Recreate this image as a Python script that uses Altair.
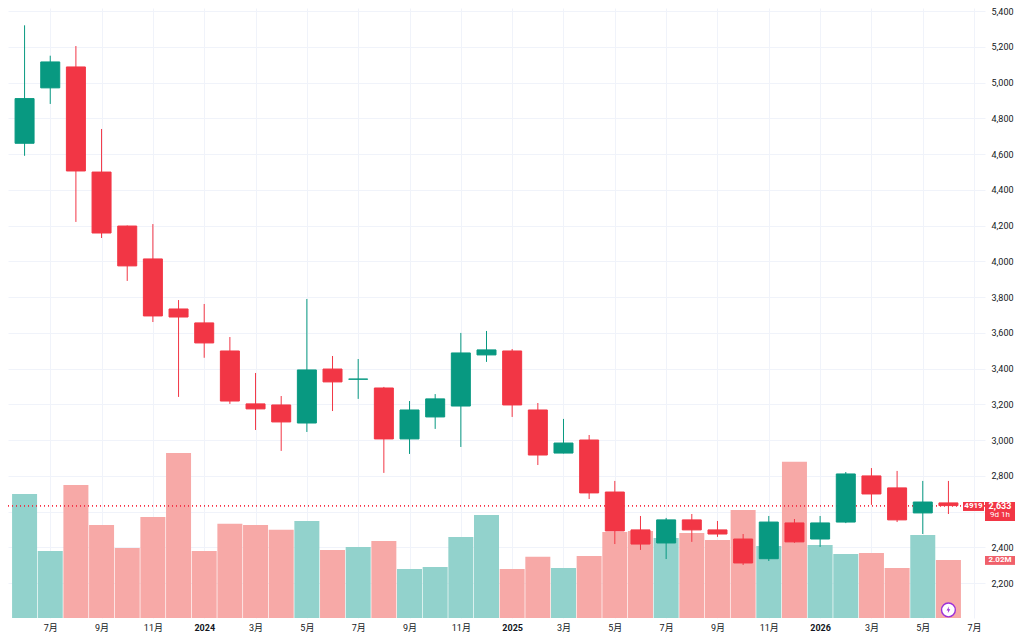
import json
import altair as alt
import pandas as pd

# ---- data (monthly candles, Jun 2023 .. Jun 2026) ----
months = ["2023-06", "2023-07", "2023-08", "2023-09", "2023-10", "2023-11", "2023-12",
          "2024-01", "2024-02", "2024-03", "2024-04", "2024-05", "2024-06", "2024-07",
          "2024-08", "2024-09", "2024-10", "2024-11", "2024-12", "2025-01", "2025-02",
          "2025-03", "2025-04", "2025-05", "2025-06", "2025-07", "2025-08", "2025-09",
          "2025-10", "2025-11", "2025-12", "2026-01", "2026-02", "2026-03", "2026-04",
          "2026-05", "2026-06"]
opens = [4660, 4970, 5087, 4499, 4197, 4013, 3733, 3655, 3498, 3202, 3196, 3095, 3397,
         3340, 3291, 3006, 3129, 3190, 3476, 3498, 3168, 2927, 3000, 2709, 2497, 2424,
         2553, 2497, 2446, 2336, 2536, 2446, 2541, 2799, 2732, 2592, 2648]
highs = [5320, 5150, 5204, 4740, 4200, 4208, 3783, 3761, 3576, 3375, 3246, 3789, 3470,
         3453, 3297, 3218, 3257, 3599, 3610, 3509, 3207, 3118, 3028, 2771, 2575, 2564,
         2586, 2547, 2474, 2575, 2558, 2575, 2821, 2843, 2827, 2771, 2771]
lows = [4590, 4880, 4220, 4130, 3890, 3660, 3241, 3460, 3202, 3056, 2939, 3045, 3162,
        3230, 2816, 2922, 3062, 2961, 3437, 3129, 2860, 2925, 2670, 2418, 2385, 2334,
        2430, 2458, 2301, 2323, 2425, 2402, 2535, 2637, 2541, 2474, 2586]
closes = [4910, 5115, 4505, 4158, 3974, 3694, 3688, 3543, 3218, 3174, 3101, 3392, 3325,
          3341, 3006, 3168, 3230, 3487, 3504, 3196, 2916, 2983, 2704, 2491, 2418, 2553,
          2497, 2474, 2312, 2541, 2430, 2536, 2810, 2698, 2553, 2653, 2633]
volumes_m = [4.32, 2.33, 4.63, 3.24, 2.44, 3.52, 5.75, 2.33, 3.28, 3.24, 3.07, 3.38, 2.37,
             2.47, 2.68, 1.71, 1.78, 2.82, 3.59, 1.71, 2.13, 1.74, 2.16, 3.00, 3.03, 2.79,
             2.96, 2.72, 3.76, 2.51, 5.44, 2.54, 2.23, 2.26, 1.74, 2.89, 2.02]

x_tick_values = list(range(1, 38, 2))
x_tick_labels = ["7月", "9月", "11月", "2024", "3月", "5月", "7月", "9月", "11月", "2025",
                 "3月", "5月", "7月", "9月", "11月", "2026", "3月", "5月", "7月"]
price_ticks = list(range(2200, 5401, 200))

last_price = 2633
last_price_text = "2,633"
countdown_text = "9d 1h"
badge_text = "4919"
volume_text = "2.02M"
last_volume = 2.02

# ---- build table ----
df = pd.DataFrame({
    "month": months,
    "idx": list(range(len(months))),
    "open": opens,
    "high": highs,
    "low": lows,
    "close": closes,
    "vol": volumes_m,
})
df["dir"] = ["up" if c >= o else "down" for o, c in zip(opens, closes)]
df["vdir"] = ["vup" if d == "up" else "vdown" for d in df["dir"]]

FONT = "Roboto, 'Noto Sans CJK SC', sans-serif"
TEXT = "#131722"
GRID = "#f0f3fa"
PURPLE = "#9B30D9"

x_scale = alt.Scale(domain=[-0.451, 37.23], nice=False, zero=False)
price_scale = alt.Scale(domain=[2004.2, 5416.8], nice=False, zero=False)
vol_scale = alt.Scale(domain=[0, 21.25], nice=False)

x_axis = alt.Axis(
    values=x_tick_values,
    labelExpr=json.dumps(x_tick_labels, ensure_ascii=False) + "[(datum.value - 1) / 2]",
    grid=True, gridColor=GRID, ticks=False, domain=False, title=None,
    labelFont=FONT, labelFontSize=9, labelColor=TEXT, labelPadding=5,
    labelFontWeight={"condition": {"test": "(datum.value - 7) % 12 == 0", "value": "bold"},
                     "value": "normal"},
    labelFlush=False, labelOverlap=False,
)
y_axis = alt.Axis(
    orient="right", values=price_ticks,
    labelExpr="datum.value == 2600 ? '' : format(datum.value, ',')",
    grid=True, gridColor=GRID, ticks=False, domain=False, title=None,
    labelFont=FONT, labelFontSize=9, labelColor=TEXT, labelPadding=6,
    labelAlign="left", labelFlush=False, labelOverlap=False,
)

x_enc = alt.X("idx:Q", scale=x_scale, axis=x_axis)

candle_color = alt.Scale(domain=["up", "down", "vup", "vdown"],
                         range=["#089981", "#F23645", "#92D2CC", "#F7A9A7"])

base = alt.Chart(df)

volume = base.mark_bar(size=25).encode(
    x=x_enc,
    y=alt.Y("vol:Q", scale=vol_scale, axis=None),
    color=alt.Color("vdir:N", scale=candle_color, legend=None),
)

price_line = base.mark_rule(strokeDash=[1, 3], color="#F23645", opacity=0.35, strokeWidth=1).encode(
    y=alt.YDatum(last_price, scale=price_scale, axis=None),
)

wicks = base.mark_rule(strokeWidth=1).encode(
    x=x_enc,
    y=alt.Y("low:Q", scale=price_scale, axis=y_axis),
    y2="high:Q",
    color=alt.Color("dir:N", scale=candle_color, legend=None),
)

bodies = base.mark_bar(size=19, strokeWidth=1).encode(
    x=x_enc,
    y=alt.Y("open:Q", scale=price_scale, axis=None),
    y2="close:Q",
    color=alt.Color("dir:N", scale=candle_color, legend=None),
    stroke=alt.Stroke("dir:N", scale=candle_color, legend=None),
)

# ---- right-hand price / volume badges ----
one = pd.DataFrame({"a": [0]})
badge_box = alt.Chart(one).mark_rect(color="#F23645").encode(
    x=alt.value(955), x2=alt.value(976),
    y=alt.YDatum(2653, scale=price_scale, axis=None), y2=alt.Y2Datum(2603),
)
badge_txt = alt.Chart(one).mark_text(
    text=badge_text, color="white", font=FONT, fontSize=8, fontWeight="bold", align="center", baseline="middle"
).encode(x=alt.value(965.5), y=alt.YDatum(2628, scale=price_scale, axis=None))

price_box = alt.Chart(one).mark_rect(color="#F23645").encode(
    x=alt.value(977), x2=alt.value(1007),
    y=alt.YDatum(2653, scale=price_scale, axis=None), y2=alt.Y2Datum(2547),
)
price_txt = alt.Chart(one).mark_text(
    text=last_price_text, color="white", font=FONT, fontSize=9, fontWeight="bold", align="center", baseline="middle"
).encode(x=alt.value(992), y=alt.YDatum(2631, scale=price_scale, axis=None))
count_txt = alt.Chart(one).mark_text(
    text=countdown_text, color="white", font=FONT, fontSize=8, align="center", baseline="middle"
).encode(x=alt.value(992), y=alt.YDatum(2581, scale=price_scale, axis=None))

vol_box = alt.Chart(one).mark_rect(color="#F0606A").encode(
    x=alt.value(977), x2=alt.value(1007),
    y=alt.YDatum(2.16, scale=vol_scale, axis=None), y2=alt.Y2Datum(1.85),
)
vol_txt = alt.Chart(one).mark_text(
    text=volume_text, color="white", font=FONT, fontSize=8, fontWeight="bold", align="center", baseline="middle"
).encode(x=alt.value(992), y=alt.YDatum(last_volume, scale=vol_scale, axis=None))

icon_df = pd.DataFrame({"idx": [36], "v": [0.28]})
icon_circle = alt.Chart(icon_df).mark_point(
    shape="circle", size=190, filled=True, fill="white", stroke=PURPLE, strokeWidth=1.4, opacity=1
).encode(x=x_enc, y=alt.Y("v:Q", scale=vol_scale, axis=None))
icon_bolt = alt.Chart(icon_df).mark_point(
    shape="M0.15,-1 L-0.55,0.15 L-0.05,0.15 L-0.2,1 L0.55,-0.2 L0.05,-0.2 Z",
    size=45, filled=True, color=PURPLE, opacity=1,
).encode(x=x_enc, y=alt.Y("v:Q", scale=vol_scale, axis=None))

chart = alt.layer(
    volume, price_line, wicks, bodies,
    badge_box, badge_txt, price_box, price_txt, count_txt, vol_box, vol_txt,
    icon_circle, icon_bolt,
).resolve_scale(y="independent").properties(
    width=977, height=610,
    autosize=alt.AutoSizeParams(type="none"),
    padding={"left": 0, "top": 0, "right": 31, "bottom": 14},
    background="white",
).configure_view(stroke=None)

chart.save("out.html", embed_options={"renderer": "svg", "actions": False})
